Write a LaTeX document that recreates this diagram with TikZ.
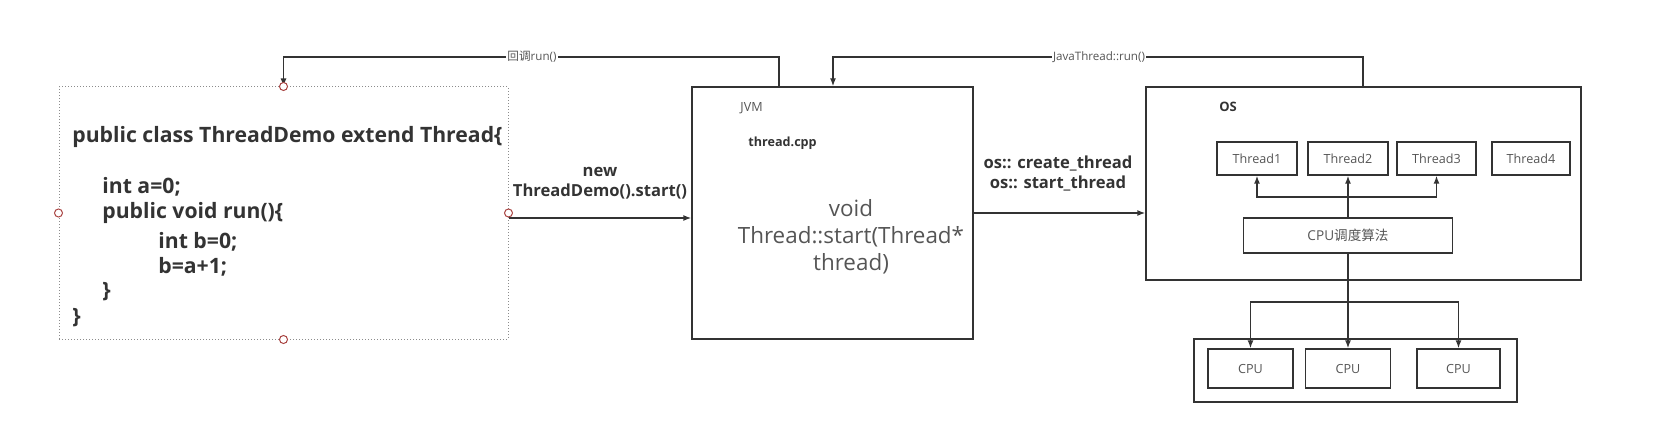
\documentclass[tikz,border=0pt]{standalone}
\usepackage{fontspec}
\setmainfont{Open Sans}
\newfontfamily\cjk{Noto Sans CJK SC}
\usetikzlibrary{arrows.meta}
\definecolor{ink}{HTML}{333333}
\definecolor{grayink}{HTML}{555555}
\definecolor{pinred}{HTML}{A94442}
\tikzset{
  box/.style={draw=ink, line width=0.7pt, inner sep=0pt, anchor=center},
  arr/.style={draw=ink, line width=0.7pt, -{Latex[length=4pt,width=3pt]}},
  ln/.style={draw=ink, line width=0.7pt},
  pinmark/.style={circle, draw=pinred, fill=white, line width=0.5pt, minimum size=4pt, inner sep=0pt},
  codeline/.style={anchor=west, font=\bfseries\fontsize{10.6}{12}\selectfont, text=ink, inner sep=0pt},
  small/.style={font=\fontsize{6.3}{7.5}\selectfont, text=grayink, inner sep=0pt},
  lbl/.style={font=\bfseries\fontsize{8.3}{10.3}\selectfont, text=ink, align=center, inner sep=0pt},
  toplbl/.style={font=\fontsize{5.8}{7}\selectfont, text=grayink, fill=white, inner sep=0.5pt},
}
\begin{document}
\begin{tikzpicture}[x=0.5pt,y=-0.5pt]
\useasboundingbox (0,0) rectangle (1658,422);
% code box
\node[draw=black!45, densely dotted, line width=0.5pt, minimum width=224.5pt, minimum height=126pt, inner sep=0pt] (code) at (283.5,213) {};
\node[codeline] (c1) at (72,137) {public class ThreadDemo extend Thread\{};
\node[codeline] (c2) at (102,187) {int a=0;};
\node[codeline] (c3) at (102,213) {public void run()\{};
\node[codeline] (c4) at (158,242) {int b=0;};
\node[codeline] (c5) at (158,267) {b=a+1;};
\node[codeline] (c6) at (102,292) {\}};
\node[codeline] (c7) at (72,318) {\}};
% JVM box
\node[box, minimum width=140.5pt, minimum height=126pt] (jvm) at (832.5,213) {};
\node[small, anchor=west] (jvmlbl) at (740,108) {JVM};
\node[font=\bfseries\fontsize{6.3}{7}\selectfont, text=ink, anchor=west, inner sep=0pt] (cpp) at (748,143) {thread.cpp};
\node[font=\fontsize{11.2}{13.5}\selectfont, text=grayink, align=center, inner sep=0pt] (fn) at (851,237) {void\\Thread::start(Thread*\\thread)};
% OS box
\node[box, minimum width=217.5pt, minimum height=96.5pt] (os) at (1363.5,183.5) {};
\node[font=\bfseries\fontsize{6.5}{7}\selectfont, text=ink, inner sep=0pt] (oslbl) at (1228,107) {OS};
\node[box, small, minimum width=40pt, minimum height=16.5pt] (t1) at (1257,158.5) {Thread1};
\node[box, small, minimum width=40pt, minimum height=16.5pt] (t2) at (1348,158.5) {Thread2};
\node[box, small, minimum width=39.5pt, minimum height=16.5pt] (t3) at (1436.5,158.5) {Thread3};
\node[box, small, minimum width=39pt, minimum height=16.5pt] (t4) at (1531,158.5) {Thread4};
\node[box, font=\fontsize{6.8}{8}\selectfont, text=grayink, inner sep=0pt, minimum width=104.5pt, minimum height=17.5pt] (alg) at (1348,235.5) {CPU{\cjk 调度算法}};
% CPU container
\node[box, minimum width=161.5pt, minimum height=31.5pt] (cpus) at (1355.5,370.5) {};
\node[box, small, minimum width=42.5pt, minimum height=19.5pt] (cpu1) at (1250.5,368.5) {CPU};
\node[box, small, minimum width=42.5pt, minimum height=19.5pt] (cpu2) at (1348,368.5) {CPU};
\node[box, small, minimum width=41.5pt, minimum height=19.5pt] (cpu3) at (1458.5,368.5) {CPU};
% connectors
\draw[arr] ([yshift=-2.5pt]code.east) -- ([yshift=-2.5pt]jvm.west);
\node[lbl] (newlbl) at (600,183) {new\\ThreadDemo().start()};
\draw[arr] (jvm.east) -- (jvm.east -| os.west);
\node[lbl] (oslbl2) at (1058,173.5) {os:: create\_thread\\os:: start\_thread};
\draw[arr] (jvm.north -| 779,0) -- (779,57) -| (code.north);
\node[toplbl] (cb) at (532,57) {{\cjk 回调}run()};
\draw[arr] (os.north -| 1363,0) -- (1363,57) -| (jvm.north -| 833,0);
\node[toplbl] (jr) at (1099,57) {JavaThread::run()};
\draw[ln] (alg.north) -- (alg.north |- 0,197) coordinate (j1);
\draw[arr] (j1) -- (t2.south);
\draw[arr] (j1) -| (t1.south);
\draw[arr] (j1) -| (t3.south);
\draw[arr] (alg.south) -- (cpu2.north);
\coordinate (j2) at (alg.south |- 0,302);
\draw[arr] (j2) -| (cpu1.north);
\draw[arr] (j2) -| (cpu3.north);
% pins
\node[pinmark] (p1) at (code.north) {};
\node[pinmark] (p2) at (code.south) {};
\node[pinmark] (p3) at (code.west) {};
\node[pinmark] (p4) at (code.east) {};
\end{tikzpicture}
\end{document}
